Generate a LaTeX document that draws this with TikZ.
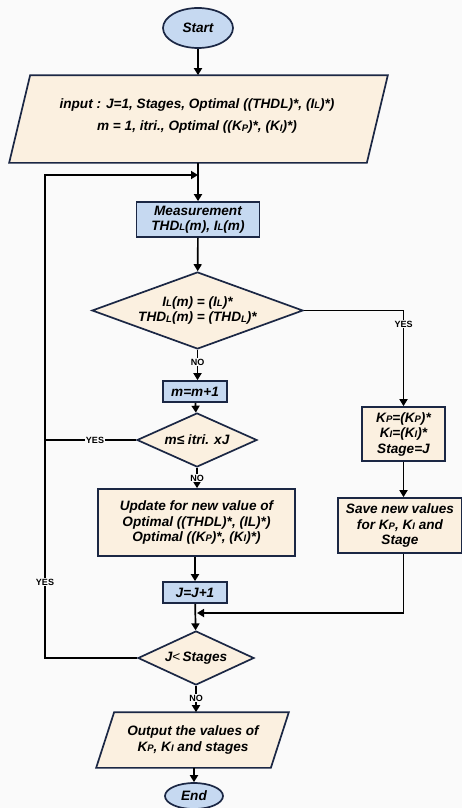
\documentclass[tikz,border=0pt]{standalone}
\usepackage{fontspec}
\setmainfont{Liberation Sans}
\usetikzlibrary{shapes.geometric,arrows.meta}
\definecolor{bluefill}{HTML}{C6D9F1}
\definecolor{creamfill}{HTML}{FBF0E0}
\definecolor{navy}{HTML}{1B2744}
\definecolor{bgc}{HTML}{FAFAFA}
\newcommand{\sbs}[1]{\raisebox{-0.05ex}{\fontsize{9.5}{9.5}\selectfont #1}}
\tikzset{
  base/.style={draw=navy, line width=1.7pt, align=center, inner sep=0pt,
    font=\fontsize{13.6}{15.5}\selectfont\bfseries\itshape},
  term/.style={base, ellipse, fill=bluefill},
  bluebox/.style={base, rectangle, fill=bluefill},
  creambox/.style={base, rectangle, fill=creamfill},
  decision/.style={base, diamond, fill=creamfill},
  iobox/.style={base, rectangle, draw=none},
  iofill/.style={draw=navy, line width=1.7pt, fill=creamfill, line join=miter},
  conn/.style={line width=1.7pt, -{Triangle[length=7pt,width=8pt]}},
  line/.style={line width=1.7pt},
  lab/.style={fill=bgc, inner sep=1pt, font=\fontsize{9}{10}\selectfont\bfseries}
}
\begin{document}
\begin{tikzpicture}[x=1pt,y=-1pt]
\fill[bgc] (0,0) rectangle (462,808);
\useasboundingbox (0,0) rectangle (462,808);

\node[term, minimum width=70pt, minimum height=40pt] (start) at (198,28) {Start};

% input parallelogram
\node[iobox, minimum width=356pt, minimum height=86pt] (input) at (198.5,119) {};
\draw[iofill] ([xshift=-10.5pt]input.south west) -- ([xshift=-10.5pt]input.south east)
  -- ([xshift=10.5pt]input.north east) -- ([xshift=10.5pt]input.north west) -- cycle;
\node[iobox] (inputtxt) at (197,116)
  {input : J=1, Stages, Optimal ((THDL)*, (I\sbs{L})*)\\[7pt]
   m = 1, itri., Optimal ((K\sbs{P})*, (K\sbs{I})*)};

\node[bluebox, minimum width=123pt, minimum height=35pt] (meas) at (198,219.5)
  {Measurement\\THD\sbs{L}(m), I\sbs{L}(m)};
\node[decision, minimum width=211pt, minimum height=77pt, aspect=2.74] (d1) at (197.5,310.5)
  {I\sbs{L}(m) = (I\sbs{L})*\\THD\sbs{L}(m) = (THD\sbs{L})*};
\node[bluebox, minimum width=64pt, minimum height=21pt] (m1) at (195,391.5) {m=m+1};
\node[decision, minimum width=120pt, minimum height=54pt, aspect=2.2] (d2) at (197,440)
  {m≤ itri. xJ};
\node[creambox, minimum width=197pt, minimum height=67pt] (upd) at (196.5,522.5)
  {Update for new value of\\Optimal ((THDL)*, (IL)*)\\Optimal ((K\sbs{P})*, (K\sbs{I})*)};
\node[bluebox, minimum width=64pt, minimum height=21pt] (jj) at (195,592.5) {J=J+1};
\node[decision, minimum width=116pt, minimum height=54pt, aspect=2.15] (d3) at (196,658)
  {J{\normalfont\fontsize{13.6}{15}\selectfont<}\,Stages};

% output parallelogram
\node[iobox, minimum width=173pt, minimum height=54pt] (out) at (192.5,740) {};
\draw[iofill] ([xshift=-9pt]out.south west) -- ([xshift=-9pt]out.south east)
  -- ([xshift=9pt]out.north east) -- ([xshift=9pt]out.north west) -- cycle;
\node[iobox] (outtxt) at (193,740)
  {Output the values of\\K\sbs{P}, K\sbs{I} and stages};

\node[term, minimum width=58pt, minimum height=26pt] (end) at (194,796) {End};
\node[creambox, minimum width=83pt, minimum height=54pt] (kp) at (403.5,434)
  {K\sbs{P}=(K\sbs{P})*\\K\sbs{I}=(K\sbs{I})*\\Stage=J};
\node[creambox, minimum width=124pt, minimum height=55pt] (save) at (400,525.5)
  {Save new values\\for K\sbs{P}, K\sbs{I} and\\Stage};

\coordinate (jn1) at (198,175);
\coordinate (jn2) at (197,613);
\coordinate (lft) at (45,175);

\draw[conn] (start) -- (input.north -| start.south);
\draw[conn] (input.south -| meas.north) -- (meas);
\draw[conn] (d3.west) -- (d3.west -| lft) -- (lft) -- (jn1);
\draw[conn] (meas) -- (d1);
\draw[conn] (d1.east) -- (d1.east -| kp.north) -- (kp.north);
\draw[conn] (d1.south) -- (d1.south |- m1.north);
\draw[conn] (m1) -- (d2);
\draw[line] (d2.west) -- (d2.west -| lft);
\draw[conn] (d2.south) -- (d2.south |- upd.north);
\draw[conn] (upd.south -| jj.south) -- (jj);
\draw[conn] (jj) -- (d3);
\draw[conn] (kp) -- (kp.south |- save.north);
\draw[conn] (save.south -| kp.south) -- (kp.south |- jn2) -- (jn2);
\draw[conn] (d3.south) -- (d3.south |- out.north);
\draw[conn] (out.south -| end.north) -- (end);

\node[lab] (y1) at (403.5,324) {YES};
\node[lab] (n1) at (197.5,362) {NO};
\node[lab] (y2) at (95,440) {YES};
\node[lab] (n2) at (197,478) {NO};
\node[lab] (y3) at (45,582) {YES};
\node[lab] (n3) at (196,698) {NO};
\end{tikzpicture}
\end{document}
